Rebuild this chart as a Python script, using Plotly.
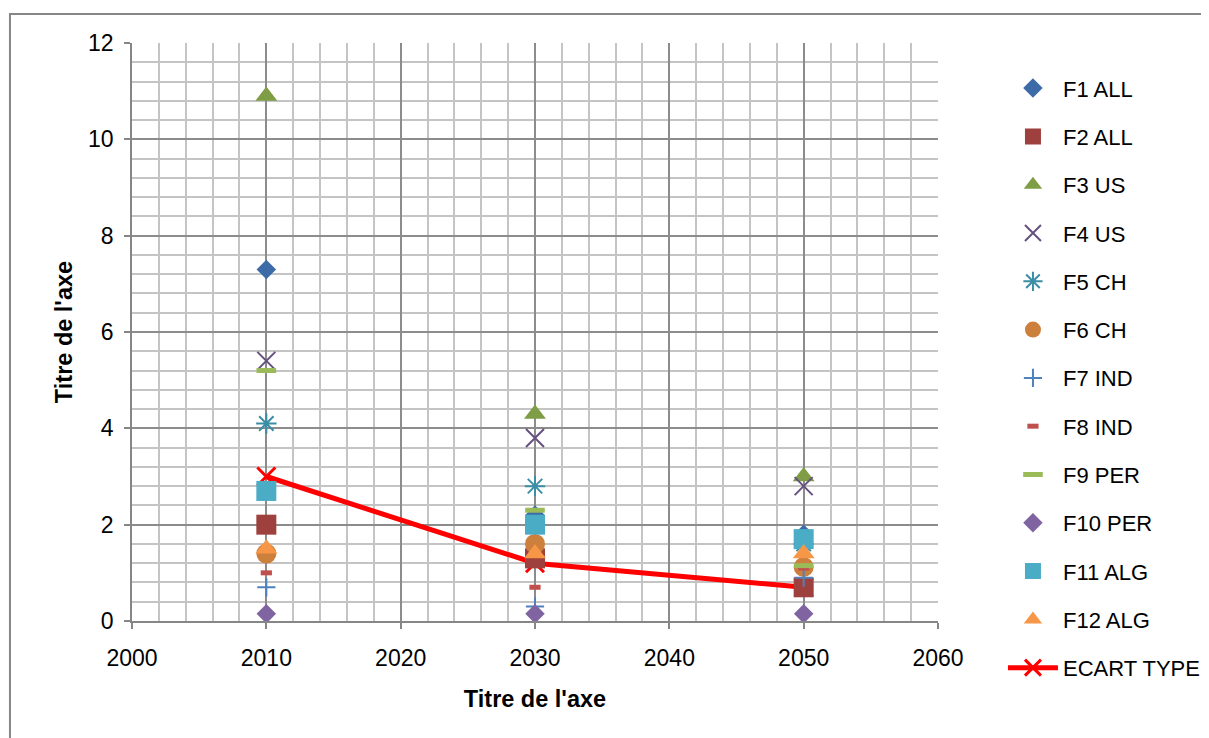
import plotly.graph_objects as go

years = [2010, 2030, 2050]

series_names = ["F1 ALL", "F2 ALL", "F3 US", "F4 US", "F5 CH", "F6 CH",
                "F7 IND", "F8 IND", "F9 PER", "F10 PER", "F11 ALG", "F12 ALG"]
f1_all = [7.3, 2.2, 1.8]
f2_all = [2.0, 1.3, 0.7]
f3_us = [10.9, 4.3, 3.0]
f4_us = [5.4, 3.8, 2.8]
f5_ch = [4.1, 2.8, 1.6]
f6_ch = [1.4, 1.6, 1.12]
f7_ind = [0.7, 0.3, 0.9]
f8_ind = [1.0, 0.7, 1.1]
f9_per = [5.2, 2.3, 1.15]
f10_per = [0.15, 0.15, 0.15]
f11_alg = [2.7, 2.0, 1.7]
f12_alg = [1.5, 1.4, 1.4]
ecart_type = [3.0, 1.2, 0.7]

series_values = [f1_all, f2_all, f3_us, f4_us, f5_ch, f6_ch,
                 f7_ind, f8_ind, f9_per, f10_per, f11_alg, f12_alg]

styles = [
    dict(symbol="diamond", size=15, color="#3D6BA8"),
    dict(symbol="square", size=20, color="#9E413E"),
    dict(symbol="triangle-up", size=19, color="#7E9D45"),
    dict(symbol="x-thin-open", size=18, color="#65507F", lw=2),
    dict(symbol="asterisk-open", size=17, color="#3B8EA5", lw=2),
    dict(symbol="circle", size=20, color="#CD7F3C"),
    dict(symbol="cross-thin-open", size=13, color="#4F81BD", lw=2),
    dict(symbol="line-ew-open", size=8, color="#C0504D", lw=5),
    dict(symbol="line-ew-open", size=14, color="#9BBB59", lw=5),
    dict(symbol="diamond", size=15, color="#8064A2"),
    dict(symbol="square", size=20, color="#4BACC6"),
    dict(symbol="triangle-up", size=19, color="#F79646"),
]

FONT = "Liberation Sans"
fig = go.Figure()

# standard deviation line (drawn underneath, listed last in legend)
fig.add_trace(go.Scatter(
    x=years, y=ecart_type, name="ECART TYPE", mode="lines+markers",
    line=dict(color="#FF0000", width=5),
    marker=dict(symbol="x-thin-open", size=18, color="#FF0000",
                line=dict(color="#FF0000", width=3)),
    legendgroup="g13", legendrank=1013,
))

for i, (name, vals, st) in enumerate(zip(series_names, series_values, styles)):
    if st["symbol"].endswith("-open"):
        marker = dict(symbol=st["symbol"], size=st["size"], color=st["color"],
                      line=dict(color=st["color"], width=st.get("lw", 2)))
    else:
        marker = dict(symbol=st["symbol"], size=st["size"], color=st["color"],
                      line=dict(width=0))
    fig.add_trace(go.Scatter(
        x=years, y=vals, name=name, mode="markers", marker=marker,
        legendgroup="g%d" % (i + 1), legendrank=1000 + i + 1,
    ))

fig.update_layout(
    width=1201, height=730,
    margin=dict(l=124, r=271, t=35, b=117, autoexpand=False),
    paper_bgcolor="white", plot_bgcolor="white",
    font=dict(family=FONT, size=22, color="#000000"),
    showlegend=True,
    legend=dict(
        x=1.0806, y=0.958, xanchor="left", yanchor="top",
        font=dict(family=FONT, size=22, color="#000000"),
        tracegroupgap=16.7, itemwidth=50, maxheight=720,
        bgcolor="rgba(0,0,0,0)",
    ),
    shapes=[dict(type="rect", xref="paper", yref="paper",
                 x0=-0.1514, x1=1.3437, y0=-0.2145, y1=1.0502,
                 line=dict(color="#868686", width=2), fillcolor="rgba(0,0,0,0)",
                 layer="below")],
)

fig.update_xaxes(
    range=[2000, 2060], dtick=10, tick0=2000,
    showgrid=True, gridcolor="#8C8C8C", gridwidth=1.5,
    minor=dict(dtick=2, showgrid=True, gridcolor="#C4C4C4", gridwidth=1.5),
    showline=True, linecolor="#868686", linewidth=1.5,
    ticks="outside", ticklen=6, tickcolor="#868686", tickwidth=1.5,
    zeroline=False, ticklabelstandoff=10,
    tickfont=dict(family=FONT, size=23),
    title=dict(text="<b>Titre de l'axe</b>", font=dict(family=FONT, size=23.5), standoff=20),
)
fig.update_yaxes(
    range=[0, 12], dtick=2, tick0=0,
    showgrid=True, gridcolor="#8C8C8C", gridwidth=1.5,
    minor=dict(dtick=0.4, showgrid=True, gridcolor="#C4C4C4", gridwidth=1.5),
    showline=True, linecolor="#868686", linewidth=1.5,
    ticks="outside", ticklen=6, tickcolor="#868686", tickwidth=1.5,
    zeroline=False, ticklabelstandoff=6,
    tickfont=dict(family=FONT, size=23),
    title=dict(text="<b>Titre de l'axe</b>", font=dict(family=FONT, size=23.5), standoff=9),
)

fig.write_html("out.html")
